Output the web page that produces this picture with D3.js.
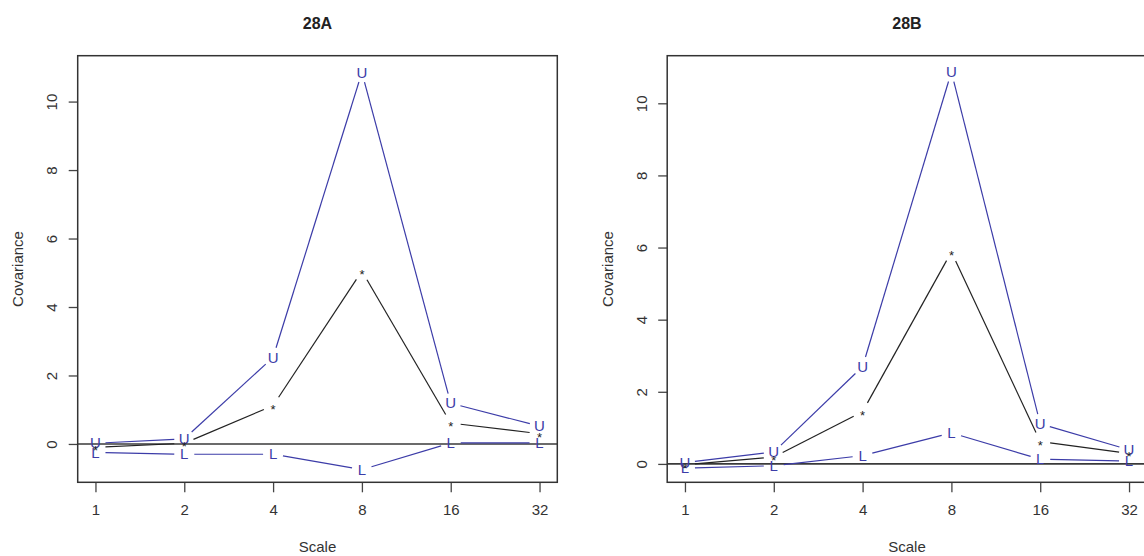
<!DOCTYPE html>
<html>
<head>
<meta charset="utf-8">
<script src="https://cdn.jsdelivr.net/npm/d3@7"></script>
<style>
  html, body { margin: 0; padding: 0; background: #fff; }
  svg { display: block; }
  text { font-family: "Liberation Sans", Arial, sans-serif; }
</style>
</head>
<body>
<svg id="chart" width="1144" height="556"></svg>
<script>
// ---- data ----
const scales = [1, 2, 4, 8, 16, 32];
const xTickLabels = ["1", "2", "4", "8", "16", "32"];
const yTicks = [0, 2, 4, 6, 8, 10];
const panelTitles = ["28A", "28B"];

const upperA = [0.02, 0.15, 2.53, 10.85, 1.19, 0.52];
const estA   = [-0.10, 0.02, 1.12, 5.05, 0.61, 0.30];
const lowerA = [-0.25, -0.30, -0.30, -0.75, 0.03, 0.03];

const upperB = [0.04, 0.33, 2.70, 10.87, 1.11, 0.39];
const estB   = [-0.02, 0.19, 1.45, 5.88, 0.62, 0.29];
const lowerB = [-0.12, -0.05, 0.23, 0.86, 0.13, 0.08];

const yDomainA = [-1.12, 11.34];
const yDomainB = [-0.51, 11.32];

// ---- drawing ----
const svg = d3.select("#chart");
const blue = "#3c3ca8";
const dark = "#222";
const axisCol = "#444";

const panels = [
  { title: panelTitles[0], left: 77.7, yDomain: yDomainA, U: upperA, E: estA, L: lowerA },
  { title: panelTitles[1], left: 667.2, yDomain: yDomainB, U: upperB, E: estB, L: lowerB }
];
const plotTop = 55.7, plotBottom = 482.3, plotW = 479.6;

panels.forEach((p, i) => {
  const x = d3.scaleLog().base(2)
    .domain([Math.pow(2, -0.2), Math.pow(2, 5.2)])
    .range([p.left, p.left + plotW]);
  const y = d3.scaleLinear().domain(p.yDomain).range([plotBottom, plotTop]);
  const g = svg.append("g");
  const clipId = "clip" + i;
  svg.append("clipPath").attr("id", clipId)
    .append("rect").attr("x", p.left).attr("y", plotTop)
    .attr("width", plotW).attr("height", plotBottom - plotTop);

  // title
  g.append("text")
    .attr("x", p.left + plotW / 2).attr("y", 28.8)
    .attr("text-anchor", "middle")
    .attr("font-size", 16).attr("font-weight", "bold").attr("fill", "#222")
    .text(p.title);

  // x axis
  const xAxis = d3.axisBottom(x).tickValues(scales)
    .tickFormat((d, k) => xTickLabels[k]).tickSize(10).tickPadding(12);
  const gx = g.append("g").attr("transform", `translate(0,${plotBottom})`).call(xAxis);
  gx.select(".domain").remove();
  gx.selectAll(".tick line").attr("stroke", axisCol).attr("stroke-width", 1.3);
  gx.selectAll(".tick text").attr("font-size", 15).attr("fill", "#333")
    .attr("font-family", "Liberation Sans, Arial, sans-serif");

  // y axis
  const yAxis = d3.axisLeft(y).tickValues(yTicks).tickSize(9).tickFormat(d3.format("d"));
  const gy = g.append("g").attr("transform", `translate(${p.left},0)`).call(yAxis);
  gy.select(".domain").remove();
  gy.selectAll(".tick line").attr("stroke", axisCol).attr("stroke-width", 1.3);
  gy.selectAll(".tick text")
    .attr("x", null).attr("dy", null)
    .attr("text-anchor", "middle")
    .attr("transform", "translate(-20.3,0) rotate(-90)")
    .attr("font-size", 15).attr("fill", "#333")
    .attr("font-family", "Liberation Sans, Arial, sans-serif");

  // axis titles
  g.append("text")
    .attr("transform", `translate(${p.left - 54.5},${(plotTop + plotBottom) / 2}) rotate(-90)`)
    .attr("text-anchor", "middle").attr("font-size", 15).attr("fill", "#333")
    .text("Covariance");
  g.append("text")
    .attr("x", p.left + plotW / 2).attr("y", 551.5)
    .attr("text-anchor", "middle").attr("font-size", 15).attr("fill", "#333")
    .text("Scale");

  const inner = g.append("g").attr("clip-path", `url(#${clipId})`);

  // zero reference line
  inner.append("line")
    .attr("x1", p.left).attr("x2", p.left + plotW)
    .attr("y1", y(0)).attr("y2", y(0))
    .attr("stroke", "#3a3a3a").attr("stroke-width", 1.6);

  const gap = 10;
  const line = d3.line();
  function series(vals, color, sym) {
    const pts = scales.map((s, k) => [x(s), y(vals[k])]);
    for (let k = 0; k < pts.length - 1; k++) {
      const [x0, y0] = pts[k], [x1, y1] = pts[k + 1];
      const dx = x1 - x0, dy = y1 - y0, d = Math.hypot(dx, dy);
      if (d <= 2 * gap) continue;
      const ux = dx / d, uy = dy / d;
      inner.append("path")
        .attr("d", line([[x0 + ux * gap, y0 + uy * gap], [x1 - ux * gap, y1 - uy * gap]]))
        .attr("stroke", color).attr("stroke-width", 1.2).attr("fill", "none");
    }
    const off = sym === "*" ? 8 : 5.2;
    inner.selectAll(null).data(pts).enter().append("text")
      .attr("x", d => d[0]).attr("y", d => d[1] + off)
      .attr("text-anchor", "middle")
      .attr("font-size", sym === "*" ? 13 : 15)
      .attr("fill", color)
      .text(sym);
  }
  series(p.U, blue, "U");
  series(p.L, blue, "L");
  series(p.E, dark, "*");

  // box
  g.append("rect")
    .attr("x", p.left).attr("y", plotTop)
    .attr("width", plotW).attr("height", plotBottom - plotTop)
    .attr("fill", "none").attr("stroke", "#333").attr("stroke-width", 1.5);
});
</script>
</body>
</html>
